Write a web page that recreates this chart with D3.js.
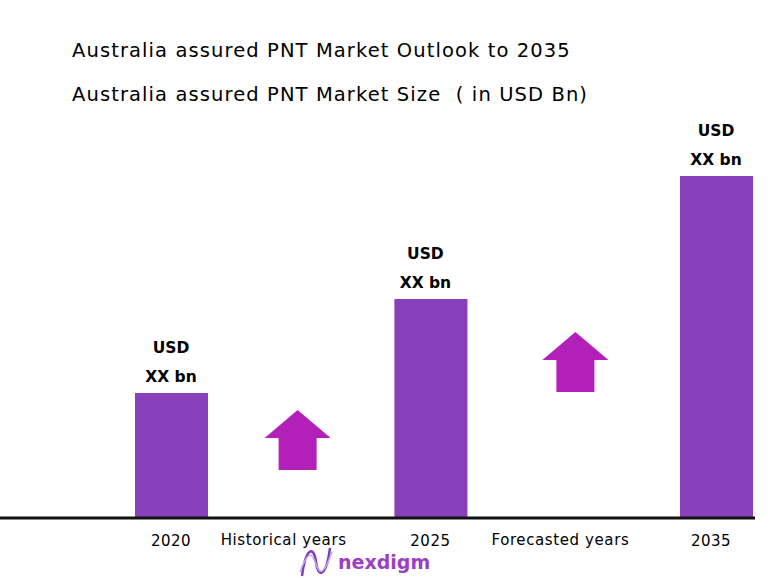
<!DOCTYPE html>
<html><head><meta charset="utf-8">
<script src="https://cdn.jsdelivr.net/npm/d3@7"></script>
<style>body{margin:0;background:#fff}text{font-family:"DejaVu Sans",sans-serif}</style>
</head><body><svg id="c" width="772" height="578"></svg>
<script>
const years = ["2020", "2025", "2035"];
const sizes = [125, 219, 342];
const valueLabels = ["USD", "XX bn"];
const gapLabels = ["Historical years", "Forecasted years"];
const arrowHeights = [60, 60];

const svg = d3.select("#c");
const base = 518;
const x = d3.scaleLinear().domain([0, 5]).range([171, 716]);
const y = d3.scaleLinear().domain([0, 342]).range([base, 176]);
const barX = [0, 2.38, 5];
const gapX = [1.07, 3.6];
const arrowBase = [470, 392];

const titles = ["Australia assured PNT Market Outlook to 2035", "Australia assured PNT Market Size  ( in USD Bn)"];
titles.forEach((t, i) => svg.append("text").attr("x", 72).attr("y", 57 + i * 44)
  .attr("font-size", 19.5).attr("letter-spacing", 1.1).attr("xml:space", "preserve").text(t));

svg.selectAll("rect.bar").data(sizes).join("rect")
  .attr("x", (d, i) => x(barX[i]) - 36).attr("width", 73)
  .attr("y", d => y(d)).attr("height", d => base - y(d))
  .attr("fill", "#8740b9");

sizes.forEach((d, i) => {
  valueLabels.forEach((t, j) => svg.append("text")
    .attr("x", x(barX[i]) - (i === 1 ? 5 : 0)).attr("y", y(d) - 40 + j * 29)
    .attr("text-anchor", "middle").attr("font-size", 15.5).attr("font-weight", "bold").text(t));
  svg.append("text").attr("x", x(barX[i]) - (i === 2 ? 5 : 0)).attr("y", 546)
    .attr("text-anchor", "middle").attr("font-size", 15).attr("letter-spacing", 0.5).text(years[i]);
});

gapLabels.forEach((t, i) => {
  svg.append("text").attr("x", x(gapX[i]) - 4 + i * 1).attr("y", 545)
    .attr("text-anchor", "middle").attr("font-size", 15).attr("letter-spacing", 0.6).text(t);
  const cx = x(gapX[i]) + 10 + i * 2, b = arrowBase[i], h = arrowHeights[i];
  const pts = [[cx - 19, b], [cx + 19, b], [cx + 19, b - h + 28], [cx + 33, b - h + 28],
    [cx, b - h], [cx - 33, b - h + 28], [cx - 19, b - h + 28]];
  svg.append("polygon").attr("points", pts.map(p => p.join(",")).join(" ")).attr("fill", "#b31fb9");
});

svg.append("line").attr("x1", 0).attr("x2", 755).attr("y1", base).attr("y2", base)
  .attr("stroke", "#111").attr("stroke-width", 3);

// logo
const g = svg.append("g").attr("transform", "translate(300,550)");
g.append("path").attr("d", "M2,26 C6,-4 14,-4 16,12 C18,28 26,28 30,-2").attr("fill", "none")
  .attr("stroke", "#7a3fc0").attr("stroke-width", 2.5);
g.append("path").attr("d", "M0,22 C8,0 12,2 16,14 C20,26 24,24 32,2").attr("fill", "none")
  .attr("stroke", "#c9a6e8").attr("stroke-width", 1.5);
g.append("text").attr("x", 38).attr("y", 19).attr("font-size", 19).attr("font-weight", "bold")
  .attr("fill", "#9b3fc5").text("nexdigm");
</script></body></html>
